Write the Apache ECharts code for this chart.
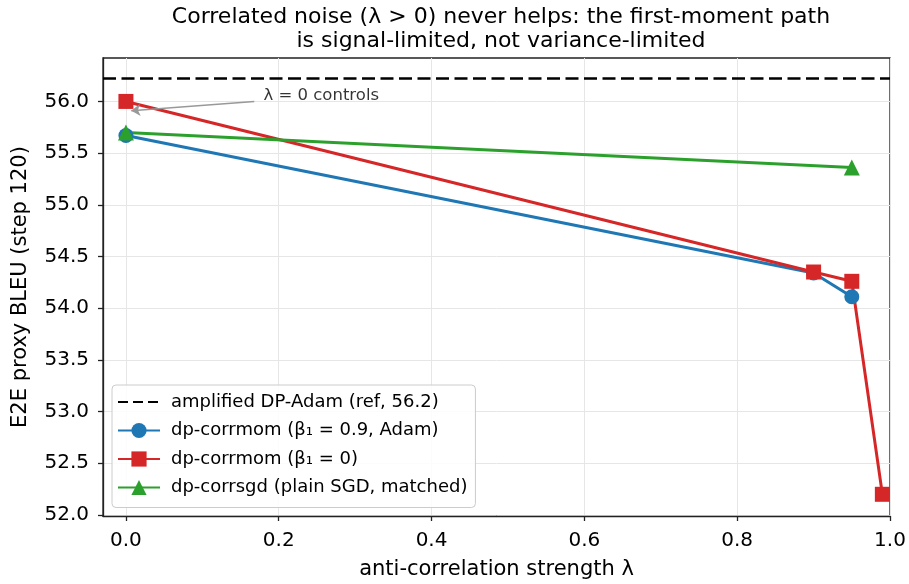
<!DOCTYPE html>
<html><head><meta charset="utf-8">
<script src="https://cdn.jsdelivr.net/npm/echarts@6/dist/echarts.min.js"></script>
<style>html,body{margin:0;padding:0;background:#fff}#c{width:909px;height:584px}</style>
</head><body><div id="c"></div>
<script>
const TITLE = 'Correlated noise (λ > 0) never helps: the first-moment path\nis signal-limited, not variance-limited';
const X_NAME = 'anti-correlation strength λ';
const Y_NAME = 'E2E proxy BLEU (step 120)';
const X_TICKS = [0, 0.2, 0.4, 0.6, 0.8, 1.0];
const Y_TICKS = [52.0, 52.5, 53.0, 53.5, 54.0, 54.5, 55.0, 55.5, 56.0];
const X_RANGE = [-0.03, 1.0];
const Y_RANGE = [51.99, 56.42];

const REF_NAME = 'amplified DP-Adam (ref, 56.2)';
const REF_VALUE = 56.22;

const ADAM_NAME = 'dp-corrmom (β₁ = 0.9, Adam)';
const ADAM_LAMBDA = [0, 0.9, 0.95];
const ADAM_BLEU = [55.67, 54.34, 54.11];

const B0_NAME = 'dp-corrmom (β₁ = 0)';
const B0_LAMBDA = [0, 0.9, 0.95, 0.99];
const B0_BLEU = [56.0, 54.35, 54.26, 52.2];

const SGD_NAME = 'dp-corrsgd (plain SGD, matched)';
const SGD_LAMBDA = [0, 0.95];
const SGD_BLEU = [55.70, 55.36];

const ANNOT_TEXT = 'λ = 0 controls';
const ANNOT_TEXT_AT = [0.18, 56.0];
const ANNOT_ARROW_FROM = [0.168, 56.0];
const ANNOT_ARROW_TO = [0.007, 55.91];

const FONT = 'DejaVu Sans';
const zip = (xs, ys) => xs.map((x, i) => [x, ys[i]]);

const chart = echarts.init(document.getElementById('c'), null, {renderer: 'canvas'});

function lineSeries(name, xs, ys, color, symbol, size) {
  return {
    name, type: 'line', data: zip(xs, ys),
    symbol, symbolSize: size,
    itemStyle: {color},
    lineStyle: {color, width: 3},
    z: 3
  };
}

const option = {
  animation: false,
  backgroundColor: '#fff',
  title: {
    text: TITLE,
    left: 496, top: 0, textAlign: 'center',
    textStyle: {fontFamily: FONT, fontSize: 22, fontWeight: 'normal', color: '#000', lineHeight: 24}
  },
  grid: {left: 103, right: 19, top: 58, bottom: 68, show: true, borderColor: '#222', borderWidth: 1.3, outerBoundsMode: 'none', containLabel: false},
  legend: {
    orient: 'vertical', left: 112, top: 385,
    data: [
      {name: REF_NAME, itemStyle: {color: 'rgba(0,0,0,0)', opacity: 0, borderWidth: 0}},
      ADAM_NAME, B0_NAME, SGD_NAME
    ],
    itemWidth: 42, itemHeight: 19, itemGap: 10.5,
    padding: [8, 8, 11, 5],
    backgroundColor: 'rgba(255,255,255,0.85)',
    borderColor: '#ccc', borderWidth: 1, borderRadius: 4,
    textStyle: {fontFamily: FONT, fontSize: 18, color: '#000', padding: [0, 0, 0, 6]}
  },
  xAxis: {
    type: 'value', min: X_RANGE[0], max: X_RANGE[1],
    name: X_NAME, nameLocation: 'middle', nameGap: 43,
    nameTextStyle: {fontFamily: FONT, fontSize: 21, color: '#000'},
    axisLine: {show: true, onZero: false, lineStyle: {color: '#222', width: 1.3}},
    axisTick: {show: true, customValues: X_TICKS, length: 5, lineStyle: {color: '#222', width: 1.3}},
    axisLabel: {customValues: X_TICKS, formatter: v => v.toFixed(1), margin: 15, fontFamily: FONT, fontSize: 20, color: '#000'},
    splitLine: {show: true, lineStyle: {color: '#e6e6e6', width: 1}}
  },
  yAxis: {
    type: 'value', min: Y_RANGE[0], max: Y_RANGE[1],
    name: Y_NAME, nameLocation: 'middle', nameGap: 72, nameRotate: 90,
    nameTextStyle: {fontFamily: FONT, fontSize: 21, color: '#000'},
    axisLine: {show: true, onZero: false, lineStyle: {color: '#222', width: 1.3}},
    axisTick: {show: true, customValues: Y_TICKS, length: 5, lineStyle: {color: '#222', width: 1.3}},
    axisLabel: {customValues: Y_TICKS, formatter: v => v.toFixed(1), margin: 14, fontFamily: FONT, fontSize: 20, color: '#000'},
    splitLine: {show: true, lineStyle: {color: '#e6e6e6', width: 1}}
  },
  series: [
    {
      name: REF_NAME, type: 'line', data: [], symbol: 'none',
      itemStyle: {color: '#000'},
      lineStyle: {color: '#000', width: 2.7, type: [10, 5]},
      markLine: {
        silent: true, symbol: 'none', label: {show: false},
        lineStyle: {color: '#000', width: 2.7, type: [13, 5.5]},
        data: [{yAxis: REF_VALUE}]
      }
    },
    lineSeries(ADAM_NAME, ADAM_LAMBDA, ADAM_BLEU, '#1f77b4', 'circle', 15),
    lineSeries(B0_NAME, B0_LAMBDA, B0_BLEU, '#d62728', 'rect', 15),
    lineSeries(SGD_NAME, SGD_LAMBDA, SGD_BLEU, '#2ca02c', 'triangle', 16),
    {
      name: 'annotation', type: 'scatter', data: [ANNOT_TEXT_AT],
      symbolSize: 0, silent: true, z: 5,
      label: {show: true, position: 'right', distance: 0, offset: [0, -6], formatter: ANNOT_TEXT,
        fontFamily: FONT, fontSize: 16.5, color: '#000'},
      markLine: {
        silent: true, symbol: ['none', 'arrow'], symbolSize: 9,
        label: {show: false},
        lineStyle: {color: '#999', width: 1.5, type: 'solid'},
        data: [[{coord: ANNOT_ARROW_FROM}, {coord: ANNOT_ARROW_TO}]]
      }
    }
  ]
};
chart.setOption(option);
</script>
</body></html>
